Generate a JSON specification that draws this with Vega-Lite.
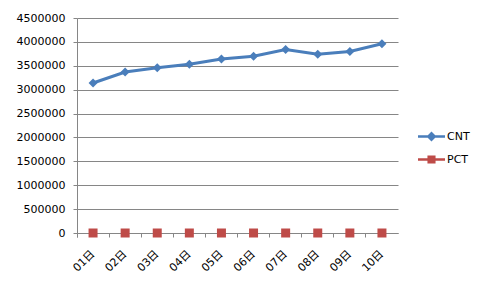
{
  "$schema": "https://vega.github.io/schema/vega-lite/v6.json",
  "width": 321,
  "height": 215,
  "autosize": {"type": "none"},
  "padding": {"left": 77, "top": 18, "right": 88, "bottom": 62},
  "background": "white",
  "config": {
    "view": {"stroke": null},
    "font": "DejaVu Sans",
    "axis": {
      "labelFont": "DejaVu Sans, Noto Sans CJK SC",
      "labelFontSize": 11,
      "labelColor": "#000000",
      "domainColor": "#868686",
      "tickColor": "#868686",
      "gridColor": "#868686",
      "title": null
    }
  },
  "data": {
    "values": [
      {"day": "01日", "series": "CNT", "value": 3140000},
      {"day": "02日", "series": "CNT", "value": 3370000},
      {"day": "03日", "series": "CNT", "value": 3460000},
      {"day": "04日", "series": "CNT", "value": 3530000},
      {"day": "05日", "series": "CNT", "value": 3640000},
      {"day": "06日", "series": "CNT", "value": 3700000},
      {"day": "07日", "series": "CNT", "value": 3840000},
      {"day": "08日", "series": "CNT", "value": 3740000},
      {"day": "09日", "series": "CNT", "value": 3800000},
      {"day": "10日", "series": "CNT", "value": 3960000},
      {"day": "01日", "series": "PCT", "value": 0.8},
      {"day": "02日", "series": "PCT", "value": 0.8},
      {"day": "03日", "series": "PCT", "value": 0.8},
      {"day": "04日", "series": "PCT", "value": 0.8},
      {"day": "05日", "series": "PCT", "value": 0.8},
      {"day": "06日", "series": "PCT", "value": 0.8},
      {"day": "07日", "series": "PCT", "value": 0.8},
      {"day": "08日", "series": "PCT", "value": 0.8},
      {"day": "09日", "series": "PCT", "value": 0.8},
      {"day": "10日", "series": "PCT", "value": 0.8}
    ]
  },
  "encoding": {
    "x": {
      "field": "day",
      "type": "nominal",
      "sort": null,
      "scale": {"type": "band", "paddingInner": 0, "paddingOuter": 0},
      "axis": {
        "bandPosition": 0,
        "tickExtra": true,
        "labelAngle": -45,
        "labelAlign": "right",
        "labelBaseline": "middle",
        "labelPadding": 15,
        "tickSize": 4,
        "grid": false,
        "domainWidth": 1
      }
    },
    "y": {
      "field": "value",
      "type": "quantitative",
      "scale": {"domain": [0, 4500000], "nice": false},
      "axis": {
        "values": [0, 500000, 1000000, 1500000, 2000000, 2500000, 3000000, 3500000, 4000000, 4500000],
        "format": "d",
        "tickSize": 4,
        "labelPadding": 8,
        "grid": true
      }
    }
  },
  "layer": [
    {
      "transform": [{"filter": "datum.series === 'CNT'"}],
      "mark": {"type": "line", "color": "#4a7ebb", "strokeWidth": 3}
    },
    {
      "mark": {"type": "point", "filled": true, "opacity": 1, "size": 0},
      "encoding": {
        "color": {
          "field": "series",
          "type": "nominal",
          "scale": {"domain": ["CNT", "PCT"], "range": ["#4a7ebb", "#be4b48"]},
          "legend": {
            "title": null,
            "orient": "none",
            "legendX": 341,
            "legendY": 105,
            "rowPadding": 4,
            "labelFontSize": 11,
            "labelColor": "#000000",
            "labelFont": "DejaVu Sans",
            "labelOffset": 2,
            "symbolSize": 729,
            "symbolStrokeWidth": 0
          }
        },
        "shape": {
          "field": "series",
          "type": "nominal",
          "scale": {
            "domain": ["CNT", "PCT"],
            "range": [
              "M-1,-0.09L1,-0.09L1,0.09L-1,0.09Z M0,-0.37L0.37,0L0,0.37L-0.37,0Z",
              "M-1,-0.09L1,-0.09L1,0.09L-1,0.09Z M-0.3,-0.3L0.3,-0.3L0.3,0.3L-0.3,0.3Z"
            ]
          },
          "legend": {
            "title": null,
            "orient": "none",
            "legendX": 341,
            "legendY": 105,
            "rowPadding": 4,
            "labelFontSize": 11,
            "labelColor": "#000000",
            "labelFont": "DejaVu Sans",
            "labelOffset": 2,
            "symbolSize": 729,
            "symbolStrokeWidth": 0
          }
        }
      }
    },
    {
      "mark": {"type": "point", "filled": true, "opacity": 1, "size": 81},
      "encoding": {
        "color": {"field": "series", "type": "nominal"},
        "shape": {
          "condition": {"test": "datum.series === 'PCT'", "value": "square"},
          "value": "diamond"
        }
      }
    }
  ]
}
